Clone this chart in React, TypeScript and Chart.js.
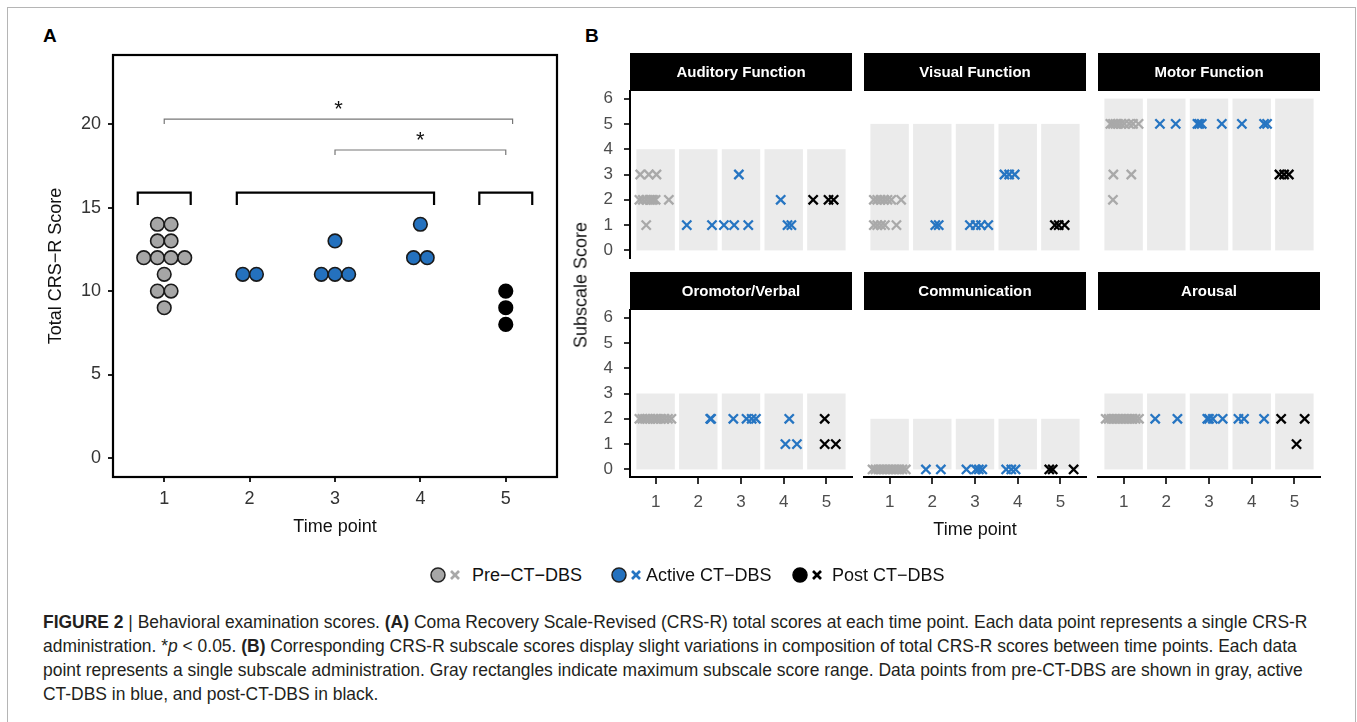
import React, { useEffect, useRef } from "react";
import { Chart, registerables } from "chart.js";

Chart.register(...registerables);
Chart.defaults.font.family = '"Liberation Sans", Arial, Helvetica, sans-serif';

// ---------- shared ----------
const TIME_POINTS = [1, 2, 3, 4, 5];
const TIME_LABELS = ["1", "2", "3", "4", "5"];
const TIME_PHASE = ["pre", "active", "active", "active", "post"];
const PHASE_NAMES = ["Pre−CT−DBS", "Active CT−DBS", "Post CT−DBS"];
const PHASE_KEYS = ["pre", "active", "post"];
const PHASE_FILL: Record<string, string> = { pre: "#A6A6A6", active: "#2471BE", post: "#000000" };
const PHASE_CROSS: Record<string, string> = { pre: "#A9A9A9", active: "#2675C2", post: "#000000" };

// ---------- panel A: total CRS-R scores ----------
const TOTAL_Y_TICKS = [0, 5, 10, 15, 20];
const TOTAL_T1 = [14, 14, 13, 13, 12, 12, 12, 12, 11, 10, 10, 9];
const TOTAL_T2 = [11, 11];
const TOTAL_T3 = [13, 11, 11, 11];
const TOTAL_T4 = [14, 12, 12];
const TOTAL_T5 = [10, 9, 8];
const TOTALS = [TOTAL_T1, TOTAL_T2, TOTAL_T3, TOTAL_T4, TOTAL_T5];
const SIG_SPANS = [[1, 5.08], [3, 5]];
const SIG_Y = [20.3, 18.45];
const SIG_LABELS = ["*", "*"];
const GROUP_SPANS = [[0.69, 1.31], [1.85, 4.16], [4.69, 5.31]];
const GROUP_Y = 15.9;
const GROUP_DROP = 0.75;
const SIG_DROP = 0.3;
const DOT_STEP = 0.16;

// ---------- panel B: subscale scores (values and horizontal jitter per time point) ----------
const SUB_Y_TICKS = [0, 1, 2, 3, 4, 5, 6];
const SUBSCALE_TITLES = ["Auditory Function", "Visual Function", "Motor Function", "Oromotor/Verbal", "Communication", "Arousal"];
const SUBSCALE_MAX = [4, 5, 6, 3, 2, 3];

const AUDITORY_SCORES = [
  [3, 3, 3, 2, 2, 2, 2, 2, 2, 2, 2, 1],
  [1, 1],
  [3, 1, 1, 1],
  [2, 1, 1],
  [2, 2, 2],
];
const AUDITORY_JITTER = [
  [-0.36, -0.16, 0.02, -0.38, -0.3, -0.22, -0.14, -0.1, -0.06, 0.0, 0.31, -0.22],
  [-0.27, 0.32],
  [-0.05, -0.4, -0.16, 0.17],
  [-0.07, 0.09, 0.18],
  [-0.31, 0.05, 0.17],
];
const VISUAL_SCORES = [
  [2, 2, 2, 2, 2, 2, 2, 1, 1, 1, 1, 1],
  [1, 1],
  [1, 1, 1, 1],
  [3, 3, 3],
  [1, 1, 1],
];
const VISUAL_JITTER = [
  [-0.37, -0.29, -0.21, -0.13, -0.05, 0.04, 0.27, -0.37, -0.29, -0.2, -0.11, 0.16],
  [0.07, 0.15],
  [-0.12, 0.02, 0.14, 0.31],
  [-0.31, -0.2, -0.07],
  [-0.13, -0.04, 0.1],
];
const MOTOR_SCORES = [
  [5, 5, 5, 5, 5, 5, 5, 5, 5, 3, 3, 2],
  [5, 5],
  [5, 5, 5, 5],
  [5, 5, 5],
  [3, 3, 3],
];
const MOTOR_JITTER = [
  [-0.31, -0.25, -0.19, -0.13, -0.06, 0.02, 0.13, 0.22, 0.35, -0.24, 0.18, -0.25],
  [-0.15, 0.22],
  [-0.27, -0.23, -0.17, 0.3],
  [-0.23, 0.29, 0.36],
  [-0.35, -0.24, -0.13],
];
const OROMOTOR_SCORES = [
  [2, 2, 2, 2, 2, 2, 2, 2, 2, 2, 2, 2],
  [2, 2],
  [2, 2, 2, 2],
  [2, 1, 1],
  [2, 1, 1],
];
const OROMOTOR_JITTER = [
  [-0.38, -0.31, -0.25, -0.19, -0.13, -0.06, 0.0, 0.06, 0.13, 0.21, 0.29, 0.37],
  [0.28, 0.3],
  [-0.18, 0.13, 0.25, 0.35],
  [0.13, 0.04, 0.31],
  [-0.04, -0.04, 0.22],
];
const COMMUNICATION_SCORES = [
  [0, 0, 0, 0, 0, 0, 0, 0, 0, 0, 0, 0],
  [0, 0],
  [0, 0, 0, 0],
  [0, 0, 0],
  [0, 0, 0],
];
const COMMUNICATION_JITTER = [
  [-0.4, -0.33, -0.26, -0.19, -0.12, -0.05, 0.02, 0.09, 0.16, 0.23, 0.3, 0.38],
  [-0.15, 0.2],
  [-0.2, 0.02, 0.09, 0.17],
  [-0.27, -0.15, -0.05],
  [-0.26, -0.18, 0.31],
];
const AROUSAL_SCORES = [
  [2, 2, 2, 2, 2, 2, 2, 2, 2, 2, 2, 2],
  [2, 2],
  [2, 2, 2, 2],
  [2, 2, 2],
  [2, 2, 1],
];
const AROUSAL_JITTER = [
  [-0.42, -0.35, -0.28, -0.21, -0.14, -0.07, 0.0, 0.07, 0.14, 0.21, 0.28, 0.36],
  [-0.26, 0.26],
  [-0.04, 0.0, 0.09, 0.32],
  [-0.31, -0.18, 0.29],
  [-0.31, 0.24, 0.05],
];
const SUBSCALE_SCORES = [AUDITORY_SCORES, VISUAL_SCORES, MOTOR_SCORES, OROMOTOR_SCORES, COMMUNICATION_SCORES, AROUSAL_SCORES];
const SUBSCALE_JITTER = [AUDITORY_JITTER, VISUAL_JITTER, MOTOR_JITTER, OROMOTOR_JITTER, COMMUNICATION_JITTER, AROUSAL_JITTER];

// ---------- helpers ----------
function dotPoints(values: number[], t: number) {
  const counts = new Map<number, number>();
  values.forEach((v) => counts.set(v, (counts.get(v) || 0) + 1));
  const seen = new Map<number, number>();
  return values.map((v) => {
    const n = counts.get(v)!;
    const i = seen.get(v) || 0;
    seen.set(v, i + 1);
    return { x: t + (i - (n - 1) / 2) * DOT_STEP, y: v };
  });
}

const fixedTicks = (arr: number[]) => (s: any) => {
  s.ticks = arr.map((v) => ({ value: v }));
};

function ChartCanvas(props: { left: number; top: number; width: number; height: number; build: () => any }) {
  const ref = useRef<HTMLCanvasElement>(null);
  useEffect(() => {
    const chart = new Chart(ref.current!, props.build());
    return () => chart.destroy();
  }, []);
  return (
    <canvas
      ref={ref}
      width={props.width}
      height={props.height}
      style={{ position: "absolute", left: props.left, top: props.top, width: props.width, height: props.height }}
    />
  );
}

// ---------- panel A chart ----------
const panelAPlugin = {
  id: "panelA",
  afterDatasetsDraw(chart: any) {
    const { ctx, chartArea: ca, scales } = chart;
    const x = scales.x, y = scales.y;
    ctx.save();
    // significance brackets
    SIG_SPANS.forEach((span, i) => {
      const x0 = x.getPixelForValue(span[0]);
      const x1 = x.getPixelForValue(span[1]);
      const yy = y.getPixelForValue(SIG_Y[i]);
      const yd = y.getPixelForValue(SIG_Y[i] - SIG_DROP);
      ctx.strokeStyle = "#777";
      ctx.lineWidth = 1.2;
      ctx.beginPath();
      ctx.moveTo(x0, yd);
      ctx.lineTo(x0, yy);
      ctx.lineTo(x1, yy);
      ctx.lineTo(x1, yd);
      ctx.stroke();
      ctx.fillStyle = "#111";
      ctx.font = '22px "Liberation Sans", Arial, sans-serif';
      ctx.textAlign = "center";
      ctx.textBaseline = "alphabetic";
      ctx.fillText(SIG_LABELS[i], (x0 + x1) / 2, yy - 3);
    });
    // group brackets
    ctx.strokeStyle = "#000";
    ctx.lineWidth = 2.2;
    GROUP_SPANS.forEach((span) => {
      const x0 = x.getPixelForValue(span[0]);
      const x1 = x.getPixelForValue(span[1]);
      const yy = y.getPixelForValue(GROUP_Y);
      const yd = y.getPixelForValue(GROUP_Y - GROUP_DROP);
      ctx.beginPath();
      ctx.moveTo(x0, yd);
      ctx.lineTo(x0, yy);
      ctx.lineTo(x1, yy);
      ctx.lineTo(x1, yd);
      ctx.stroke();
    });
    // frame
    ctx.strokeStyle = "#000";
    ctx.lineWidth = 2.2;
    ctx.strokeRect(ca.left, ca.top, ca.right - ca.left, ca.bottom - ca.top);
    ctx.restore();
  },
};

function buildPanelA() {
  const datasets = PHASE_KEYS.map((phase, pi) => {
    const data: any[] = [];
    TIME_POINTS.forEach((t, ti) => {
      if (TIME_PHASE[ti] === phase) data.push(...dotPoints(TOTALS[ti], t));
    });
    return {
      label: PHASE_NAMES[pi],
      data,
      pointRadius: 6.8,
      pointBorderWidth: 1.6,
      pointBackgroundColor: PHASE_FILL[phase],
      pointBorderColor: phase === "post" ? "#000" : "#1a1a1a",
      showLine: false,
    };
  });
  return {
    type: "scatter",
    data: { datasets },
    options: {
      animation: false,
      responsive: false,
      devicePixelRatio: 1,
      layout: { autoPadding: false, padding: { top: 25, right: 23, left: 0, bottom: 0 } },
      plugins: { legend: { display: false }, tooltip: { enabled: false } },
      scales: {
        x: {
          type: "linear",
          min: 0.4,
          max: 5.6,
          afterBuildTicks: fixedTicks(TIME_POINTS),
          afterFit: (s: any) => {
            s.height = 73;
          },
          ticks: {
            autoSkip: false,
            maxRotation: 0,
            padding: 6,
            color: "#333",
            font: { size: 18 },
            callback: (v: number) => TIME_LABELS[TIME_POINTS.indexOf(v)],
          },
          grid: { drawOnChartArea: false, drawTicks: true, tickLength: 5, color: "#222", lineWidth: 2 },
          border: { display: false },
          title: { display: true, text: "Time point", color: "#111", font: { size: 18 }, padding: { top: 0, bottom: 12 } },
        },
        y: {
          type: "linear",
          min: -1.14,
          max: 24.14,
          afterBuildTicks: fixedTicks(TOTAL_Y_TICKS),
          afterFit: (s: any) => {
            s.width = 93;
          },
          ticks: { padding: 7, color: "#333", font: { size: 18 }, callback: (v: number) => String(v) },
          grid: { drawOnChartArea: false, drawTicks: true, tickLength: 5, color: "#222", lineWidth: 2 },
          border: { display: false },
          title: { display: true, text: "Total CRS−R Score", color: "#111", font: { size: 18 }, padding: { top: 25, bottom: 0 } },
        },
      },
    },
    plugins: [panelAPlugin],
  };
}

// ---------- panel B facets ----------
const STRIP_H = 38;
const RECT_HALF = 0.45;

const facetPlugin = {
  id: "facet",
  beforeDatasetsDraw(chart: any, _args: any, opts: any) {
    const { ctx, chartArea: ca, scales } = chart;
    const x = scales.x, y = scales.y;
    ctx.save();
    ctx.fillStyle = "#EBEBEB";
    TIME_POINTS.forEach((t) => {
      const x0 = x.getPixelForValue(t - RECT_HALF);
      const x1 = x.getPixelForValue(t + RECT_HALF);
      const y0 = y.getPixelForValue(0);
      const y1 = y.getPixelForValue(opts.max);
      ctx.fillRect(x0, y1, x1 - x0, y0 - y1);
    });
    ctx.fillStyle = "#000";
    ctx.fillRect(ca.left, ca.top - STRIP_H, ca.right - ca.left, STRIP_H);
    ctx.fillStyle = "#fff";
    ctx.font = 'bold 15px "Liberation Sans", Arial, sans-serif';
    ctx.textAlign = "center";
    ctx.textBaseline = "middle";
    ctx.fillText(opts.title, (ca.left + ca.right) / 2, ca.top - STRIP_H / 2 + 1);
    ctx.restore();
  },
};

function buildFacet(idx: number) {
  const col = idx % 3;
  const row = Math.floor(idx / 3);
  const scores = SUBSCALE_SCORES[idx];
  const jitter = SUBSCALE_JITTER[idx];
  const datasets = PHASE_KEYS.map((phase, pi) => {
    const data: any[] = [];
    TIME_POINTS.forEach((t, ti) => {
      if (TIME_PHASE[ti] !== phase) return;
      scores[ti].forEach((v, k) => data.push({ x: t + jitter[ti][k], y: v }));
    });
    return {
      label: PHASE_NAMES[pi],
      data,
      pointStyle: "crossRot",
      pointRadius: 6.5,
      pointBorderWidth: 2.3,
      pointBorderColor: PHASE_CROSS[phase],
      pointBackgroundColor: PHASE_CROSS[phase],
      showLine: false,
    };
  });
  const showY = col === 0;
  const showX = row === 1;
  return {
    type: "scatter",
    data: { datasets },
    options: {
      animation: false,
      responsive: false,
      devicePixelRatio: 1,
      layout: { autoPadding: false, padding: { top: STRIP_H + 2, right: 8, left: showY ? 0 : 50, bottom: showX ? 0 : 22 } },
      plugins: {
        legend: { display: false },
        tooltip: { enabled: false },
        facet: { title: SUBSCALE_TITLES[idx], max: SUBSCALE_MAX[idx] },
      },
      scales: {
        x: {
          type: "linear",
          display: showX,
          min: 0.4,
          max: 5.6,
          afterBuildTicks: fixedTicks(TIME_POINTS),
          afterFit: (s: any) => {
            s.height = showX ? 70 : 0;
          },
          ticks: {
            autoSkip: false,
            maxRotation: 0,
            padding: 8,
            color: "#4D4D4D",
            font: { size: 17 },
            callback: (v: number) => TIME_LABELS[TIME_POINTS.indexOf(v)],
          },
          grid: { drawOnChartArea: false, drawTicks: true, tickLength: 7, color: "#333", lineWidth: 2 },
          border: { display: true, color: "#000", width: 2 },
          title: { display: col === 1, text: "Time point", color: "#111", font: { size: 18 }, padding: { top: 0, bottom: 6 } },
        },
        y: {
          type: "linear",
          display: showY,
          min: -0.3,
          max: 6.3,
          afterBuildTicks: fixedTicks(SUB_Y_TICKS),
          afterFit: (s: any) => {
            s.width = showY ? 50 : 0;
          },
          ticks: { padding: 11, color: "#4D4D4D", font: { size: 17 }, callback: (v: number) => String(v) },
          grid: { drawOnChartArea: false, drawTicks: true, tickLength: 6, color: "#333", lineWidth: 2 },
          border: { display: true, color: "#000", width: 2 },
        },
      },
    },
    plugins: [facetPlugin],
  };
}

const FACET_COL_LEFT = [630, 864, 1098];
const FACET_ROW_TOP = [51, 270];
const FACET_ROW_H = [229, 277];
const FACET_W = 280;

// ---------- legend marks ----------
function LegendMark({ phase, x }: { phase: string; x: number }) {
  return (
    <svg style={{ position: "absolute", left: x, top: 566 }} width={34} height={18}>
      <circle cx={8} cy={9} r={7} fill={PHASE_FILL[phase]} stroke={phase === "post" ? "#000" : "#222"} strokeWidth={1.5} />
      <g stroke={PHASE_CROSS[phase]} strokeWidth={2.6}>
        <line x1={21} y1={5} x2={29} y2={13} />
        <line x1={29} y1={5} x2={21} y2={13} />
      </g>
    </svg>
  );
}

const LEGEND_MARK_X = [430, 611, 792];
const LEGEND_TEXT_X = [472, 646, 832];

export default function App() {
  const captionStyle: React.CSSProperties = {
    position: "absolute",
    left: 43,
    whiteSpace: "nowrap",
    fontFamily: '"Liberation Sans", Arial, sans-serif',
    fontSize: 17.45,
    lineHeight: "22px",
    color: "#231F20",
  };
  return (
    <div style={{ position: "absolute", left: 0, top: 0, width: 1357, height: 722, background: "#fff", overflow: "hidden" }}>
      <div style={{ position: "absolute", left: 7, top: 7, width: 1347, height: 760, border: "1px solid #B5B5B5" }} />
      <div style={{ position: "absolute", left: 43, top: 25, font: 'bold 19px "Liberation Sans", Arial, sans-serif', color: "#000" }}>A</div>
      <div style={{ position: "absolute", left: 585, top: 25, font: 'bold 19px "Liberation Sans", Arial, sans-serif', color: "#000" }}>B</div>

      <ChartCanvas left={20} top={30} width={560} height={520} build={buildPanelA} />

      {SUBSCALE_TITLES.map((_, i) => {
        const col = i % 3;
        const row = Math.floor(i / 3);
        return (
          <ChartCanvas
            key={i}
            left={FACET_COL_LEFT[col] - 50}
            top={FACET_ROW_TOP[row]}
            width={FACET_W}
            height={FACET_ROW_H[row]}
            build={() => buildFacet(i)}
          />
        );
      })}

      <div
        style={{
          position: "absolute",
          left: 581,
          top: 285,
          transform: "translate(-50%, -50%) rotate(-90deg)",
          whiteSpace: "nowrap",
          font: '18px "Liberation Sans", Arial, sans-serif',
          color: "#111",
        }}
      >
        Subscale Score
      </div>

      {PHASE_KEYS.map((p, i) => (
        <React.Fragment key={p}>
          <LegendMark phase={p} x={LEGEND_MARK_X[i]} />
          <div
            style={{
              position: "absolute",
              left: LEGEND_TEXT_X[i],
              top: 564,
              font: '18px "Liberation Sans", Arial, sans-serif',
              lineHeight: "22px",
              color: "#111",
              whiteSpace: "nowrap",
            }}
          >
            {PHASE_NAMES[i]}
          </div>
        </React.Fragment>
      ))}

      <div style={{ ...captionStyle, top: 611 }}>
        <b>FIGURE 2</b> | Behavioral examination scores. <b>(A)</b> Coma Recovery Scale-Revised (CRS-R) total scores at each time point. Each data point represents a single CRS-R
      </div>
      <div style={{ ...captionStyle, top: 635 }}>
        administration. *<i>p</i> &lt; 0.05. <b>(B)</b> Corresponding CRS-R subscale scores display slight variations in composition of total CRS-R scores between time points. Each data
      </div>
      <div style={{ ...captionStyle, top: 659 }}>
        point represents a single subscale administration. Gray rectangles indicate maximum subscale score range. Data points from pre-CT-DBS are shown in gray, active
      </div>
      <div style={{ ...captionStyle, top: 683 }}>CT-DBS in blue, and post-CT-DBS in black.</div>
    </div>
  );
}
